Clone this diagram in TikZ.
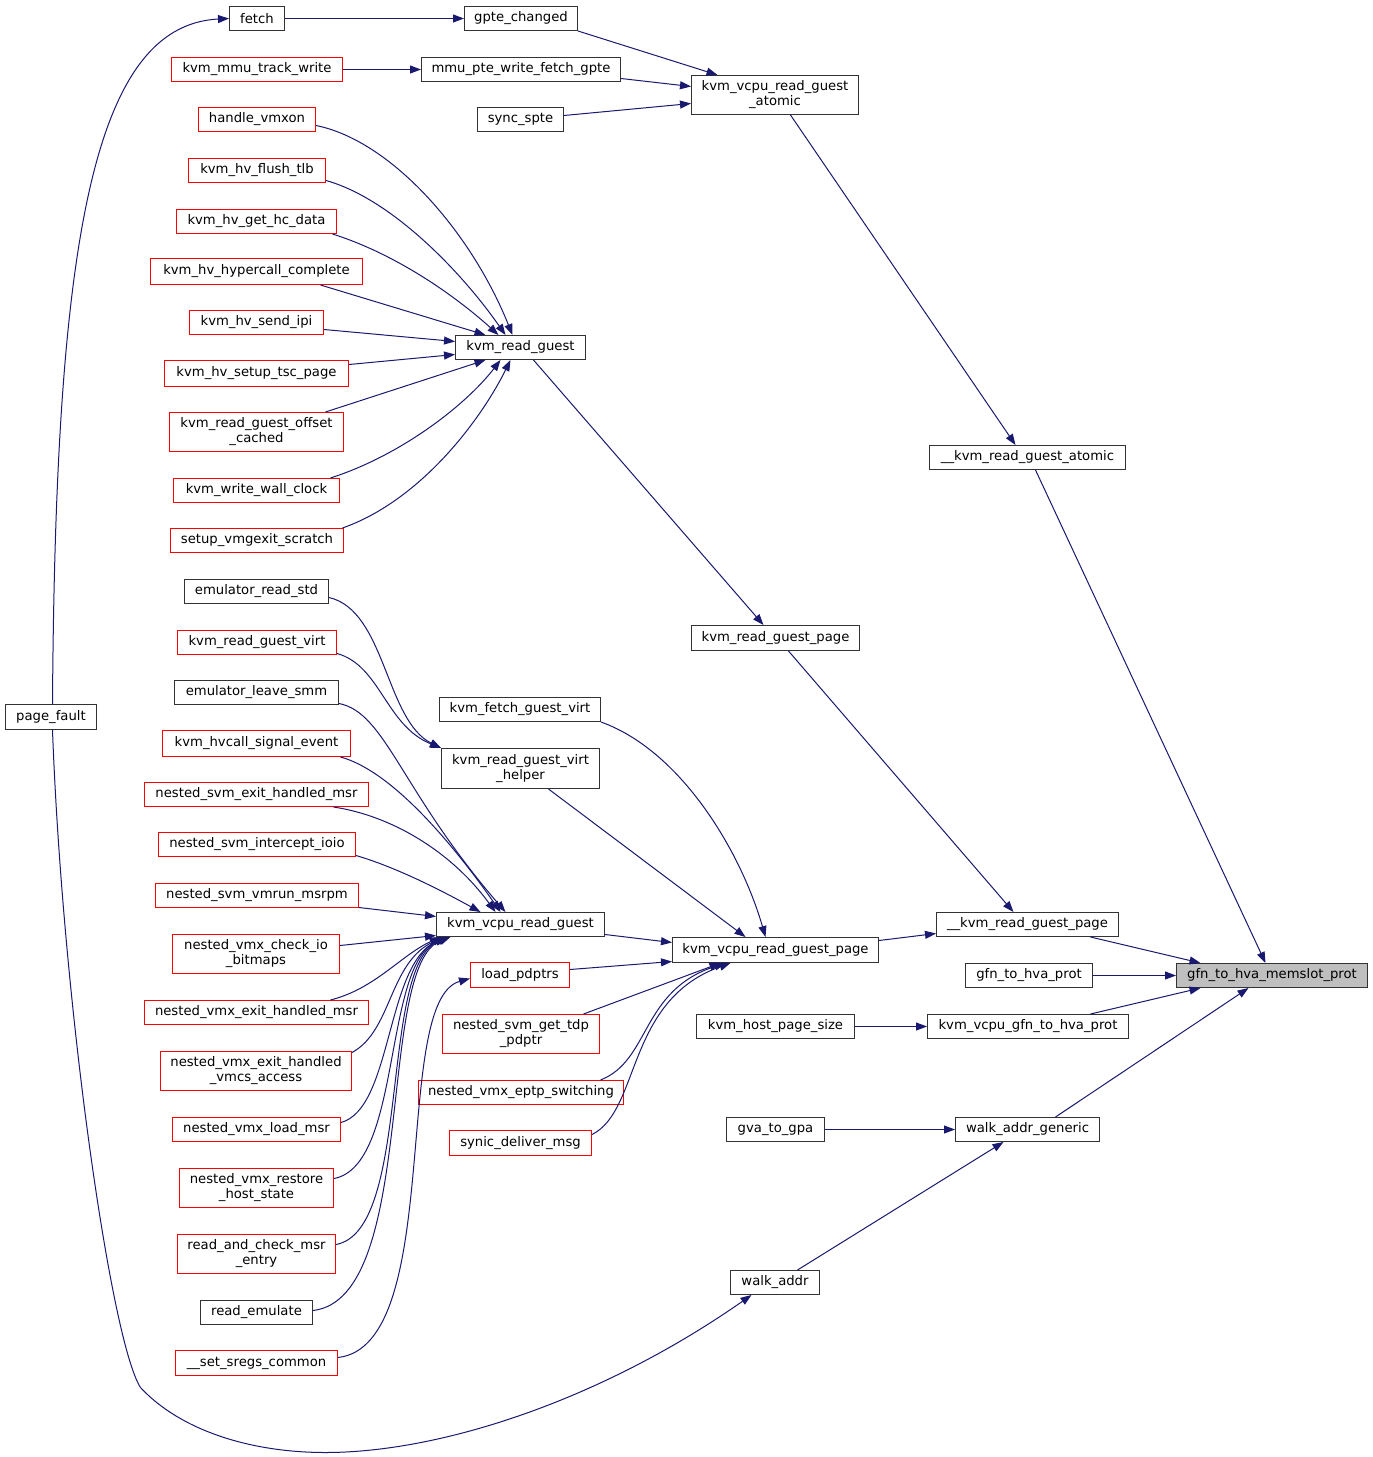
\documentclass[tikz,border=0pt]{standalone}
\usepackage{fontspec}
\setmainfont{DejaVu Sans}
\usetikzlibrary{arrows.meta}
\definecolor{edgec}{HTML}{191970}
\definecolor{boxk}{HTML}{333333}
\definecolor{boxr}{HTML}{FF0000}
\definecolor{boxfill}{HTML}{BFBFBF}
\newcommand\bx[7]{\node[#6, minimum width={#4-#2}, minimum height={#5-#3}] (#1) at ({(#2+#4)/2},{(#3+#5)/2}) {#7};}
\tikzset{
  box/.style={draw=boxk, line width=1pt, fill=white, inner sep=0pt, align=center,
    font=\fontsize{13.2}{15}\selectfont},
  rbox/.style={box, draw=boxr},
  gbox/.style={box, fill=boxfill},
  edge/.style={draw=edgec, line width=1pt, -{Triangle[length=11pt,width=8pt]}},
}
\begin{document}
\begin{tikzpicture}[x=1pt,y=-1pt]
\useasboundingbox[fill=white] (-0.5,-0.5) rectangle (1372.5,1456.5);
% nodes
\bx{gfn}{1176}{963}{1367}{987}{gbox}{gfn\_to\_hva\_memslot\_prot}
\bx{kra}{929}{445}{1125}{469}{box}{\_\_kvm\_read\_guest\_atomic}
\bx{krgptwo}{936}{912}{1118}{936}{box}{\_\_kvm\_read\_guest\_page}
\bx{gfnprot}{965}{963}{1092}{987}{box}{gfn\_to\_hva\_prot}
\bx{kvgfn}{927}{1014}{1128}{1038}{box}{kvm\_vcpu\_gfn\_to\_hva\_prot}
\bx{wag}{955}{1117}{1099}{1141}{box}{walk\_addr\_generic}
\bx{kvrga}{691}{75}{858}{114}{box}{kvm\_vcpu\_read\_guest\\\_atomic}
\bx{krgpage}{691}{625}{859}{650}{box}{kvm\_read\_guest\_page}
\bx{kvrgp}{672}{937}{878}{962}{box}{kvm\_vcpu\_read\_guest\_page}
\bx{khps}{696}{1014}{854}{1038}{box}{kvm\_host\_page\_size}
\bx{gva}{726}{1117}{824}{1141}{box}{gva\_to\_gpa}
\bx{wa}{730}{1270}{819}{1294}{box}{walk\_addr}
\bx{gpte}{464}{6}{577}{30}{box}{gpte\_changed}
\bx{mmupte}{421}{57}{620}{81}{box}{mmu\_pte\_write\_fetch\_gpte}
\bx{sync}{477}{107}{563}{131}{box}{sync\_spte}
\bx{krg}{455}{335}{585}{359}{box}{kvm\_read\_guest}
\bx{kfgv}{439}{697}{600}{721}{box}{kvm\_fetch\_guest\_virt}
\bx{krgvh}{441}{748}{599}{788}{box}{kvm\_read\_guest\_virt\\\_helper}
\bx{kvrg}{436}{912}{604}{936}{box}{kvm\_vcpu\_read\_guest}
\bx{lpd}{470}{962}{569}{987}{rbox}{load\_pdptrs}
\bx{nsgtp}{442}{1014}{599}{1053}{rbox}{nested\_svm\_get\_tdp\\\_pdptr}
\bx{nves}{418}{1080}{623}{1104}{rbox}{nested\_vmx\_eptp\_switching}
\bx{sdm}{449}{1130}{591}{1155}{rbox}{synic\_deliver\_msg}
\bx{fetch}{229}{6}{284}{30}{box}{fetch}
\bx{kmtw}{171}{57}{342}{81}{rbox}{kvm\_mmu\_track\_write}
\bx{hvmxon}{198}{107}{315}{131}{rbox}{handle\_vmxon}
\bx{hvflush}{188}{158}{325}{182}{rbox}{kvm\_hv\_flush\_tlb}
\bx{hvgethc}{176}{209}{336}{233}{rbox}{kvm\_hv\_get\_hc\_data}
\bx{hvhc}{150}{258}{362}{284}{rbox}{kvm\_hv\_hypercall\_complete}
\bx{hvipi}{189}{310}{323}{334}{rbox}{kvm\_hv\_send\_ipi}
\bx{hvtsc}{164}{360}{348}{386}{rbox}{kvm\_hv\_setup\_tsc\_page}
\bx{krgoc}{169}{412}{343}{451}{rbox}{kvm\_read\_guest\_offset\\\_cached}
\bx{kwwc}{173}{478}{339}{502}{rbox}{kvm\_write\_wall\_clock}
\bx{svs}{170}{528}{343}{552}{rbox}{setup\_vmgexit\_scratch}
\bx{ers}{184}{579}{328}{603}{box}{emulator\_read\_std}
\bx{krgv}{177}{630}{336}{654}{rbox}{kvm\_read\_guest\_virt}
\bx{els}{174}{680}{338}{704}{box}{emulator\_leave\_smm}
\bx{hvse}{162}{730}{350}{756}{rbox}{kvm\_hvcall\_signal\_event}
\bx{nsehm}{144}{782}{368}{806}{rbox}{nested\_svm\_exit\_handled\_msr}
\bx{nsii}{158}{832}{355}{856}{rbox}{nested\_svm\_intercept\_ioio}
\bx{nsvm}{155}{883}{358}{907}{rbox}{nested\_svm\_vmrun\_msrpm}
\bx{nvcib}{172}{934}{339}{973}{rbox}{nested\_vmx\_check\_io\\\_bitmaps}
\bx{nvehm}{144}{1000}{368}{1024}{rbox}{nested\_vmx\_exit\_handled\_msr}
\bx{nvehva}{160}{1051}{351}{1090}{rbox}{nested\_vmx\_exit\_handled\\\_vmcs\_access}
\bx{nvlm}{172}{1117}{340}{1141}{rbox}{nested\_vmx\_load\_msr}
\bx{nvrhs}{179}{1168}{333}{1207}{rbox}{nested\_vmx\_restore\\\_host\_state}
\bx{rcme}{177}{1234}{335}{1273}{rbox}{read\_and\_check\_msr\\\_entry}
\bx{remu}{200}{1300}{312}{1324}{box}{read\_emulate}
\bx{ssc}{175}{1350}{337}{1375}{rbox}{\_\_set\_sregs\_common}
\bx{pf}{5}{704}{96}{729}{box}{page\_fault}
% edges
\draw[edge] (fetch) -- (gpte);
\draw[edge] (gpte.south east) -- (kvrga.north -| 717,0);
\draw[edge] (kmtw) -- (mmupte);
\draw[edge] (mmupte.east |- 0,78) -- (kvrga.west |- 0,86);
\draw[edge] (sync.east |- 0,115) -- (kvrga.west |- 0,103);
\draw[edge] (kvrga.south -| 790,0) -- (kra.north -| 1015,0);
\draw[edge] (kra.south -| 1035,0) -- (gfn.north -| 1265,0);
\draw[edge] (hvmxon.east |- 0,125) .. controls (390,140) and (470,230) .. (krg.north -| 512,0);
\draw[edge] (hvflush.east |- 0,180) .. controls (390,198) and (460,270) .. (krg.north -| 505,0);
\draw[edge] (hvgethc.south -| 332,0) .. controls (400,255) and (460,300) .. (krg.north -| 498,0);
\draw[edge] (hvhc.south -| 320,0) -- (krg.north -| 485,0);
\draw[edge] (hvipi.east |- 0,329) -- (krg.west |- 0,341);
\draw[edge] (hvtsc.east |- 0,364) -- (krg.west |- 0,354);
\draw[edge] (krgoc.north -| 325,0) -- (krg.south -| 485,0);
\draw[edge] (kwwc.north -| 330,0) .. controls (400,455) and (465,405) .. (krg.south -| 500,0);
\draw[edge] (svs.north -| 342,0) .. controls (420,500) and (480,420) .. (krg.south -| 510,0);
\draw[edge] (krg.south -| 533,0) -- (krgpage.north -| 763,0);
\draw[edge] (krgpage.south -| 788,0) -- (krgptwo.north -| 1013,0);
\draw[edge] (krgptwo.south -| 1090,0) -- (gfn.north -| 1200,0);
\draw[edge] (ers.east |- 0,597) .. controls (385,610) and (385,720) .. (krgvh.north west);
\draw[edge] (krgv.east |- 0,653) .. controls (380,665) and (385,725) .. (krgvh.north west);
\draw[edge] (els.east |- 0,703) .. controls (385,712) and (400,790) .. (kvrg.north -| 505,0);
\draw[edge] (hvse.south -| 340,0) .. controls (390,770) and (450,840) .. (kvrg.north -| 500,0);
\draw[edge] (nsehm.south -| 333,0) .. controls (390,815) and (450,850) .. (kvrg.north -| 495,0);
\draw[edge] (nsii.east |- 0,855) .. controls (400,868) and (450,895) .. (kvrg.north -| 480,0);
\draw[edge] (nsvm.east |- 0,907) -- (kvrg.west |- 0,916);
\draw[edge] (nvcib.east |- 0,945) -- (kvrg.west |- 0,935);
\draw[edge] (nvehm.north -| 330,0) .. controls (375,988) and (400,955) .. (kvrg.south -| 440,0);
\draw[edge] (nvehva.east |- 0,1052) .. controls (392,1030) and (388,962) .. (kvrg.south -| 443,0);
\draw[edge] (nvlm.east |- 0,1122) .. controls (392,1108) and (385,965) .. (kvrg.south -| 445,0);
\draw[edge] (nvrhs.east |- 0,1178) .. controls (402,1165) and (382,965) .. (kvrg.south -| 446,0);
\draw[edge] (rcme.east |- 0,1244) .. controls (412,1230) and (378,965) .. (kvrg.south -| 448,0);
\draw[edge] (remu.east |- 0,1310) .. controls (418,1298) and (375,965) .. (kvrg.south -| 450,0);
\draw[edge] (ssc.east |- 0,1357) .. controls (445,1345) and (390,1000) .. (lpd.west |- 0,978);
\draw[edge] (kfgv.south east) .. controls (680,750) and (740,850) .. (kvrgp.north -| 765,0);
\draw[edge] (krgvh.south -| 548,0) -- (kvrgp.north -| 745,0);
\draw[edge] (kvrg.east |- 0,934) -- (kvrgp.west |- 0,942);
\draw[edge] (lpd.east |- 0,969) -- (kvrgp.west |- 0,961);
\draw[edge] (nsgtp.north -| 583,0) -- (kvrgp.south -| 720,0);
\draw[edge] (nves.north -| 600,0) .. controls (650,1060) and (640,990) .. (kvrgp.south -| 725,0);
\draw[edge] (sdm.east |- 0,1134) .. controls (640,1110) and (625,1000) .. (kvrgp.south -| 730,0);
\draw[edge] (kvrgp.east |- 0,940) -- (krgptwo.west |- 0,933);
\draw[edge] (gfnprot) -- (gfn);
\draw[edge] (khps) -- (kvgfn);
\draw[edge] (kvgfn.north -| 1090,0) -- (gfn.south -| 1200,0);
\draw[edge] (gva) -- (wag);
\draw[edge] (wag.north -| 1055,0) -- (gfn.south -| 1248,0);
\draw[edge] (wa.north -| 797,0) -- (wag.south -| 1003,0);
\draw[edge] (pf.north -| 52,0) .. controls (55,250) and (90,25) .. (fetch.west);
\draw[edge] (pf.south -| 52,0) .. controls (62,1000) and (110,1340) .. (140,1387)
   .. controls (180,1430) and (250,1452) .. (325,1452)
   .. controls (440,1452) and (600,1400) .. (wa.south -| 751,0);
\end{tikzpicture}
\end{document}
